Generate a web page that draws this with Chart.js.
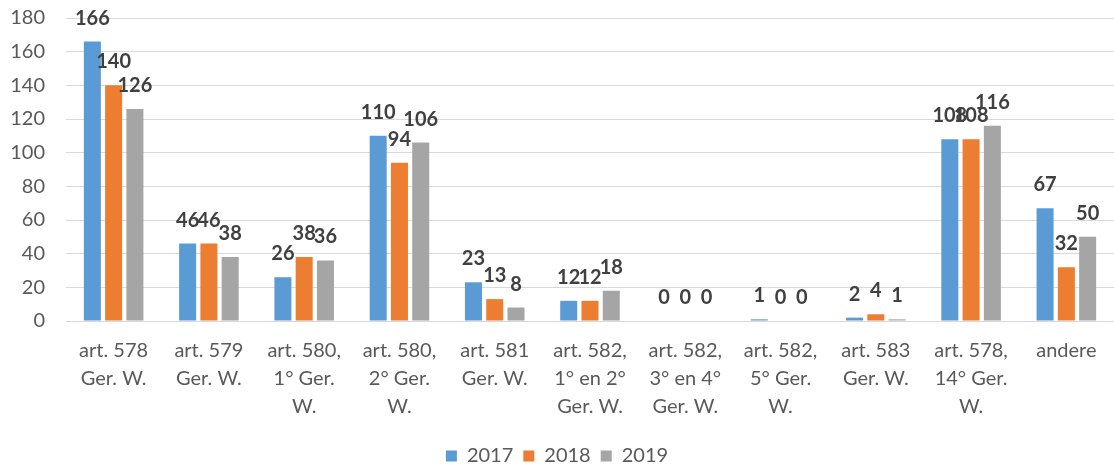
<!DOCTYPE html>
<html>
<head>
<meta charset="utf-8">
<script src="https://cdn.jsdelivr.net/npm/chart.js@4/dist/chart.umd.min.js"></script>
<style>
  html, body { margin: 0; padding: 0; background: #fff; }
  #wrap { width: 1114px; height: 471px; }
</style>
</head>
<body>
<div id="wrap"><canvas id="chart"></canvas></div>
<script>
// categories (multi-line, as in the original)
const categories = [
    ['art. 578', 'Ger. W.'],
    ['art. 579', 'Ger. W.'],
    ['art. 580,', '1° Ger.', 'W.'],
    ['art. 580,', '2° Ger.', 'W.'],
    ['art. 581', 'Ger. W.'],
    ['art. 582,', '1° en 2°', 'Ger. W.'],
    ['art. 582,', '3° en 4°', 'Ger. W.'],
    ['art. 582,', '5° Ger.', 'W.'],
    ['art. 583', 'Ger. W.'],
    ['art. 578,', '14° Ger.', 'W.'],
    'andere'
];
const years = ['2017', '2018', '2019'];
const values2017 = [166, 46, 26, 110, 23, 12, 0, 1, 2, 108, 67];
const values2018 = [140, 46, 38, 94, 13, 12, 0, 0, 4, 108, 32];
const values2019 = [126, 38, 36, 106, 8, 18, 0, 0, 1, 116, 50];
const yTicks = [0, 20, 40, 60, 80, 100, 120, 140, 160, 180];

const colors = ['#5B9BD5', '#ED7D31', '#A5A5A5'];
const font = 'Lato';

// draws the bold value above each bar
const valueLabels = {
    id: 'valueLabels',
    afterDatasetsDraw(chart) {
        const ctx = chart.ctx;
        ctx.save();
        ctx.font = 'bold 20px ' + font;
        ctx.fillStyle = '#404040';
        ctx.textAlign = 'center';
        ctx.textBaseline = 'alphabetic';
        chart.data.datasets.forEach((ds, i) => {
            chart.getDatasetMeta(i).data.forEach((bar, j) => {
                ctx.fillText(String(ds.data[j]), bar.x, bar.y - 17);
            });
        });
        ctx.restore();
    }
};

new Chart(document.getElementById('chart'), {
    type: 'bar',
    data: {
        labels: categories,
        datasets: [
            { label: years[0], data: values2017, backgroundColor: colors[0] },
            { label: years[1], data: values2018, backgroundColor: colors[1] },
            { label: years[2], data: values2019, backgroundColor: colors[2] }
        ]
    },
    options: {
        responsive: true,
        maintainAspectRatio: false,
        animation: false,
        categoryPercentage: 0.67,
        barPercentage: 0.8,
        layout: { padding: { top: 18, right: 0, bottom: -5, left: 0 } },
        plugins: {
            legend: {
                position: 'bottom',
                labels: {
                    font: { family: font, size: 20 },
                    color: '#595959',
                    boxWidth: 11,
                    boxHeight: 11,
                    padding: 10
                }
            },
            tooltip: { enabled: false }
        },
        scales: {
            x: {
                grid: { display: false, drawTicks: false },
                border: { color: '#D9D9D9' },
                ticks: {
                    font: { family: font, size: 20, lineHeight: 1.4 },
                    color: '#595959',
                    maxRotation: 0,
                    autoSkip: false,
                    padding: 16
                },
                afterFit: (s) => { s.height = 115; }
            },
            y: {
                min: 0,
                max: 180,
                afterBuildTicks: (s) => { s.ticks = yTicks.map(v => ({ value: v })); },
                // invisible tick marks keep the labels away from the plot
                grid: { color: '#D9D9D9', tickLength: 21, tickColor: 'rgba(0,0,0,0)' },
                border: { display: false },
                ticks: {
                    font: { family: font, size: 20 },
                    color: '#595959',
                    padding: 0
                },
                afterFit: (s) => { s.width = 66; }
            }
        }
    },
    plugins: [valueLabels]
});
</script>
</body>
</html>
